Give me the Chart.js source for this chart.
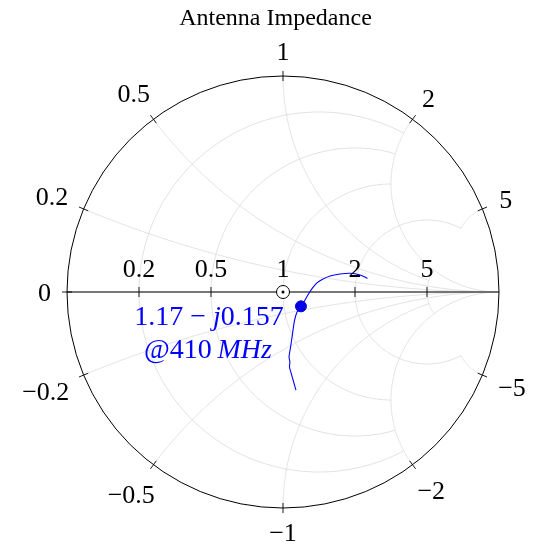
<!DOCTYPE html>
<html>
<head>
<meta charset="utf-8">
<script src="https://cdn.jsdelivr.net/npm/chart.js@4"></script>
<style>html,body{margin:0;padding:0;background:#fff}</style>
</head>
<body>
<canvas id="smith" width="545" height="546"></canvas>
<script>
const gammaRe = [0.060, 0.048, 0.039, 0.030, 0.032, 0.028, 0.035, 0.044, 0.053, 0.065, 0.083, 0.102, 0.118, 0.137, 0.157, 0.181, 0.218, 0.264, 0.310, 0.357, 0.391];
const gammaIm = [-0.454, -0.412, -0.380, -0.347, -0.324, -0.301, -0.255, -0.194, -0.134, -0.093, -0.067, -0.037, -0.009, 0.019, 0.042, 0.058, 0.074, 0.083, 0.087, 0.079, 0.063];

// highlighted point (normalised impedance)
const markerR = 1.17;
const markerX = -0.157;
const markerFreq = "410";

// chart ticks
const resistanceTicks = [0.2, 0.5, 1, 2, 5];
const reactanceTicks = [0.2, 0.5, 1, 2, 5];
// partial grid: |x| where each r circle stops, r where each x arc stops
const resistanceStop = [2, 2, 2, 5, 2];
const reactanceStop = [Infinity, Infinity, 5, Infinity, 2];

const FONT = '"Liberation Serif", "Times New Roman", serif';

function zToGamma(r, x) {
    const d = (r + 1) * (r + 1) + x * x;
    return [(r * r + x * x - 1) / d, (2 * x) / d];
}

function fmt(v) {
    return v < 0 ? "\u2212" + Math.abs(v) : String(v);
}

function drawRuns(ctx, runs, cx, baseline, size, color) {
    const font = (it) => (it ? "italic " : "") + size + "px " + FONT;
    let w = 0;
    runs.forEach(r => { ctx.font = font(r.i); r.w = ctx.measureText(r.t).width; w += r.w; });
    let x = cx - w / 2;
    ctx.fillStyle = color;
    ctx.textAlign = "left";
    ctx.textBaseline = "alphabetic";
    runs.forEach(r => { ctx.font = font(r.i); ctx.fillText(r.t, x, baseline); x += r.w; });
}

const smithPlugin = {
    id: "smith",
    beforeDatasetsDraw(chart) {
        const ctx = chart.ctx;
        const sx = chart.scales.x, sy = chart.scales.y;
        const px = (g) => [sx.getPixelForValue(g[0]), sy.getPixelForValue(g[1])];
        const cx = sx.getPixelForValue(0), cy = sy.getPixelForValue(0);
        const R = sx.getPixelForValue(1) - cx;
        ctx.save();

        // grid
        ctx.strokeStyle = "#dedede";
        ctx.lineWidth = 0.9;
        resistanceTicks.forEach((r, i) => {
            const a = Math.atan(resistanceStop[i]);
            ctx.beginPath();
            for (let k = 0; k <= 240; k++) {
                const p = px(zToGamma(r, Math.tan(-a + 2 * a * k / 240)));
                k ? ctx.lineTo(p[0], p[1]) : ctx.moveTo(p[0], p[1]);
            }
            ctx.stroke();
        });
        reactanceTicks.forEach((xv, i) => {
            const stop = reactanceStop[i];
            const umax = isFinite(stop) ? stop / (1 + stop) : 0.99995;
            [xv, -xv].forEach(x => {
                ctx.beginPath();
                for (let k = 0; k <= 240; k++) {
                    const u = umax * k / 240;
                    const p = px(zToGamma(u / (1 - u), x));
                    k ? ctx.lineTo(p[0], p[1]) : ctx.moveTo(p[0], p[1]);
                }
                ctx.stroke();
            });
        });

        // real axis
        ctx.strokeStyle = "#4a4a4a";
        ctx.lineWidth = 1.4;
        ctx.beginPath();
        ctx.moveTo(cx - R, cy);
        ctx.lineTo(cx + R, cy);
        ctx.stroke();

        // outer circle
        ctx.strokeStyle = "#000";
        ctx.lineWidth = 1;
        ctx.beginPath();
        ctx.arc(cx, cy, R, 0, 2 * Math.PI);
        ctx.stroke();

        // ticks
        ctx.lineWidth = 0.9;
        const outer = [0].concat(reactanceTicks, reactanceTicks.map(v => -v));
        outer.forEach(v => {
            const g = zToGamma(0, v);
            const dx = g[0], dy = -g[1];
            ctx.beginPath();
            ctx.moveTo(cx + dx * (R - 5), cy + dy * (R - 5));
            ctx.lineTo(cx + dx * (R + 5), cy + dy * (R + 5));
            ctx.stroke();
        });
        resistanceTicks.forEach(r => {
            const p = px(zToGamma(r, 0));
            ctx.beginPath();
            ctx.moveTo(p[0], cy - 5);
            ctx.lineTo(p[0], cy + 5);
            ctx.stroke();
        });
        ctx.restore();
    },
    afterDraw(chart) {
        const ctx = chart.ctx;
        const sx = chart.scales.x, sy = chart.scales.y;
        const cx = sx.getPixelForValue(0), cy = sy.getPixelForValue(0);
        const R = sx.getPixelForValue(1) - cx;
        const size = 26;
        ctx.save();

        // matched-point symbol
        ctx.fillStyle = "#fff";
        ctx.strokeStyle = "#000";
        ctx.lineWidth = 1;
        ctx.beginPath();
        ctx.arc(cx, cy, 6.5, 0, 2 * Math.PI);
        ctx.fill();
        ctx.stroke();
        ctx.fillStyle = "#000";
        ctx.beginPath();
        ctx.arc(cx, cy, 1.5, 0, 2 * Math.PI);
        ctx.fill();

        // title
        ctx.font = "24px " + FONT;
        ctx.fillStyle = "#000";
        ctx.textAlign = "center";
        ctx.textBaseline = "alphabetic";
        ctx.fillText("Antenna Impedance", chart.width / 2 + 3, 25);

        // resistance labels along the real axis
        ctx.font = size + "px " + FONT;
        resistanceTicks.forEach(r => {
            const g = zToGamma(r, 0);
            ctx.fillText(fmt(r), sx.getPixelForValue(g[0]), cy - 15);
        });

        // reactance labels round the rim
        const outer = [0].concat(reactanceTicks, reactanceTicks.map(v => -v));
        outer.forEach(v => {
            const g = zToGamma(0, v);
            const dx = g[0], dy = -g[1];
            const s = fmt(v);
            const w = ctx.measureText(s).width;
            const off = 16 + Math.abs(dx) * w / 2 + Math.abs(dy) * 8.5;
            const lx = cx + dx * (R + off), ly = cy + dy * (R + off);
            ctx.fillText(s, lx, ly + 0.34 * size);
        });

        // annotation of the marked point
        const mg = zToGamma(markerR, markerX);
        const mx = sx.getPixelForValue(mg[0]), my = sy.getPixelForValue(mg[1]);
        const sign = markerX < 0 ? " \u2212 " : " + ";
        drawRuns(ctx, [
            { t: markerR.toFixed(2) + sign, i: false },
            { t: "j", i: true },
            { t: Math.abs(markerX).toFixed(3), i: false }
        ], mx - 92, my + 19, 28, "blue");
        drawRuns(ctx, [
            { t: "@" + markerFreq + "\u2009", i: false },
            { t: "MHz", i: true }
        ], mx - 93, my + 52, 28, "blue");
        ctx.restore();
    }
};

const mg = zToGamma(markerR, markerX);

new Chart(document.getElementById("smith"), {
    type: "scatter",
    data: {
        datasets: [{
            data: gammaRe.map((v, i) => ({ x: v, y: gammaIm[i] })),
            showLine: true,
            borderColor: "blue",
            borderWidth: 1.1,
            pointRadius: 0,
            tension: 0.25,
        }, {
            data: [{ x: mg[0], y: mg[1] }],
            pointRadius: 5.5,
            backgroundColor: "#0000e0",
            borderColor: "#0000e0",
        }],
    },
    plugins: [smithPlugin],
    options: {
        responsive: false,
        animation: false,
        layout: { padding: { left: 67, right: 46, top: 76, bottom: 38 } },
        plugins: { legend: { display: false }, tooltip: { enabled: false }, title: { display: false } },
        scales: {
            x: { type: "linear", min: -1, max: 1, display: false },
            y: { type: "linear", min: -1, max: 1, display: false },
        },
    },
});
</script>
</body>
</html>
